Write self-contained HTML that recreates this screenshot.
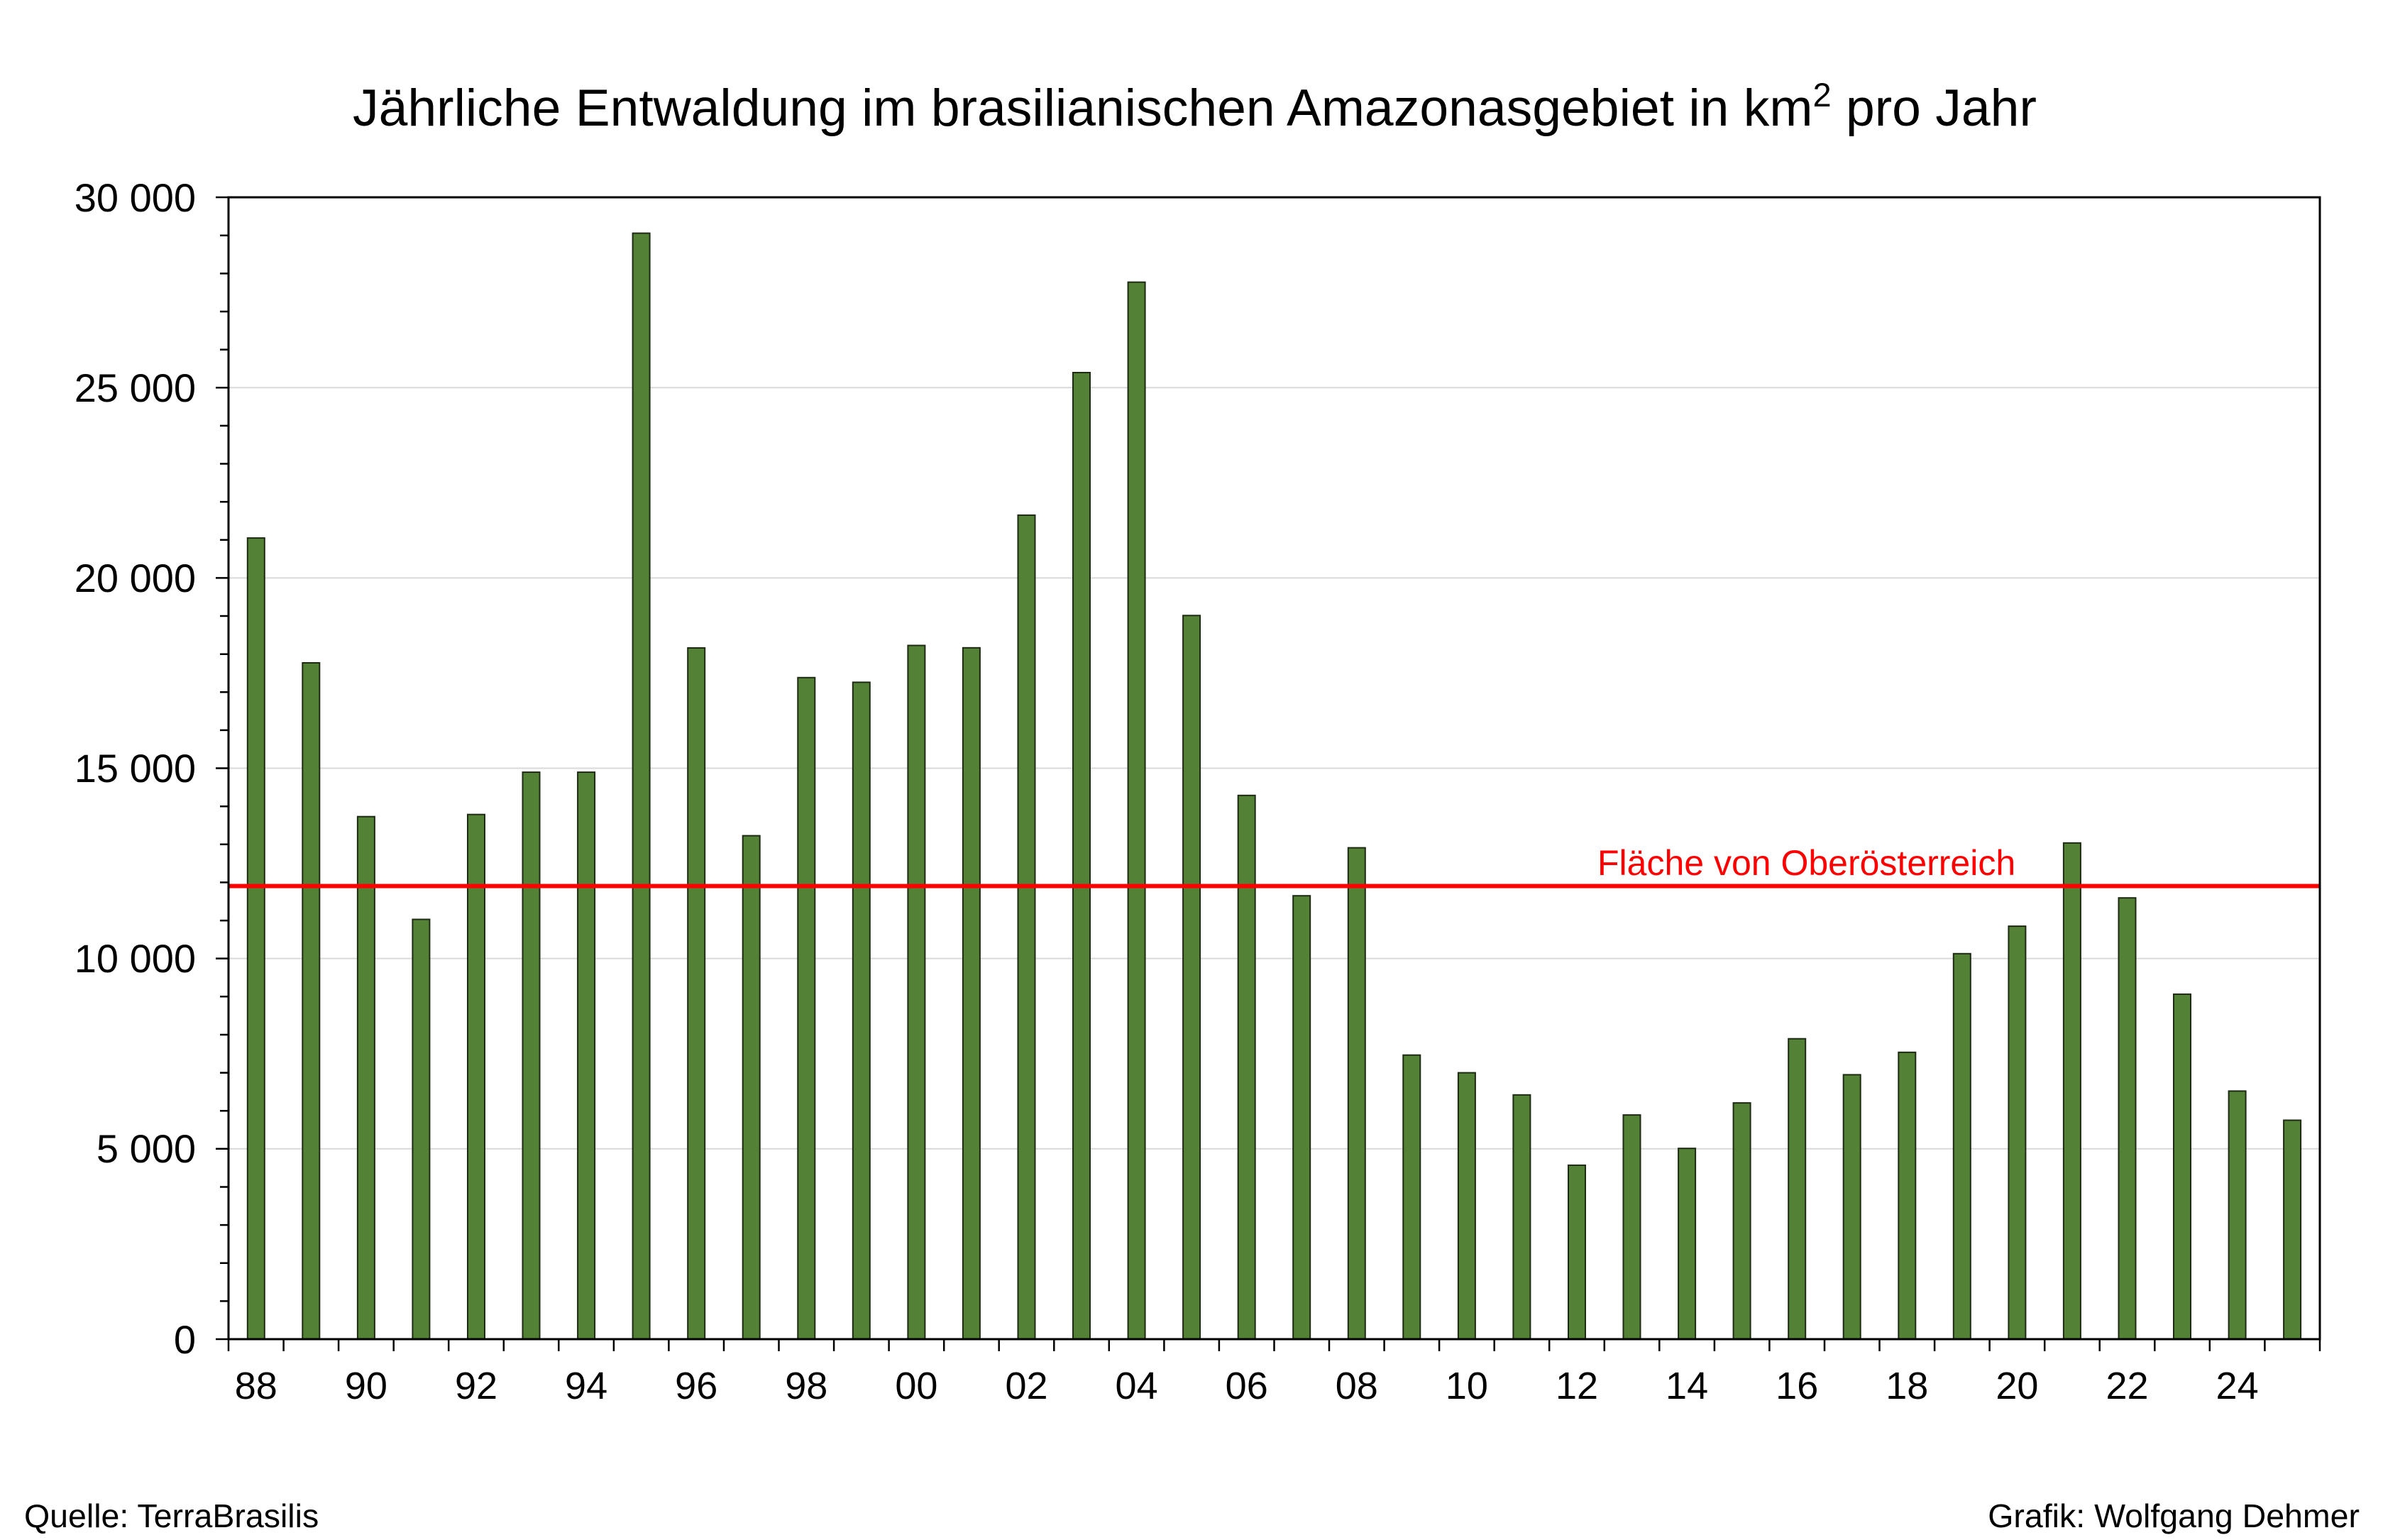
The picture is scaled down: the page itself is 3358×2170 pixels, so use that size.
<!DOCTYPE html>
<html><head><meta charset="utf-8"><style>
html,body{margin:0;padding:0;background:#fff}
svg{display:block}
text{font-family:"Liberation Sans",Arial,sans-serif;fill:#000}
</style></head><body>
<svg width="3358" height="2170" viewBox="0 0 3358 2170" xmlns="http://www.w3.org/2000/svg">
<rect width="3358" height="2170" fill="#fff"/>
<text x="497" y="177" font-size="73.3">Jährliche Entwaldung im brasilianischen Amazonasgebiet in km<tspan font-size="47" dy="-27">2</tspan><tspan dy="27"> pro Jahr</tspan></text>
<g stroke="#d9d9d9" stroke-width="2">
<line x1="322" x2="3269" y1="1618.8" y2="1618.8"/>
<line x1="322" x2="3269" y1="1350.6" y2="1350.6"/>
<line x1="322" x2="3269" y1="1082.5" y2="1082.5"/>
<line x1="322" x2="3269" y1="814.4" y2="814.4"/>
<line x1="322" x2="3269" y1="546.3" y2="546.3"/>
</g>
<g fill="#538135" stroke="#1f2a14" stroke-width="2">
<rect x="348.8" y="758.1" width="24" height="1128.9"/>
<rect x="426.3" y="934" width="24" height="953"/>
<rect x="503.9" y="1150.7" width="24" height="736.3"/>
<rect x="581.4" y="1295.5" width="24" height="591.5"/>
<rect x="659" y="1147.7" width="24" height="739.3"/>
<rect x="736.5" y="1088.1" width="24" height="798.9"/>
<rect x="814.1" y="1088.1" width="24" height="798.9"/>
<rect x="891.6" y="328.6" width="24" height="1558.4"/>
<rect x="969.2" y="913" width="24" height="974"/>
<rect x="1046.7" y="1177.6" width="24" height="709.4"/>
<rect x="1124.3" y="954.8" width="24" height="932.2"/>
<rect x="1201.8" y="961.4" width="24" height="925.6"/>
<rect x="1279.4" y="909.5" width="24" height="977.5"/>
<rect x="1356.9" y="912.8" width="24" height="974.2"/>
<rect x="1434.5" y="725.9" width="24" height="1161.1"/>
<rect x="1512" y="525" width="24" height="1362"/>
<rect x="1589.6" y="397.6" width="24" height="1489.4"/>
<rect x="1667.1" y="867.3" width="24" height="1019.7"/>
<rect x="1744.7" y="1120.8" width="24" height="766.2"/>
<rect x="1822.2" y="1262.2" width="24" height="624.8"/>
<rect x="1899.8" y="1194.6" width="24" height="692.4"/>
<rect x="1977.3" y="1486.7" width="24" height="400.3"/>
<rect x="2054.9" y="1511.6" width="24" height="375.4"/>
<rect x="2132.4" y="1542.8" width="24" height="344.2"/>
<rect x="2210" y="1641.9" width="24" height="245.1"/>
<rect x="2287.5" y="1571.1" width="24" height="315.9"/>
<rect x="2365.1" y="1618.2" width="24" height="268.8"/>
<rect x="2442.6" y="1554.1" width="24" height="332.9"/>
<rect x="2520.2" y="1463.7" width="24" height="423.3"/>
<rect x="2597.7" y="1514.4" width="24" height="372.6"/>
<rect x="2675.3" y="1482.8" width="24" height="404.2"/>
<rect x="2752.8" y="1343.8" width="24" height="543.2"/>
<rect x="2830.4" y="1305.1" width="24" height="581.9"/>
<rect x="2907.9" y="1187.8" width="24" height="699.2"/>
<rect x="2985.5" y="1265.2" width="24" height="621.8"/>
<rect x="3063" y="1400.9" width="24" height="486.1"/>
<rect x="3140.6" y="1537.4" width="24" height="349.6"/>
<rect x="3218.1" y="1578.5" width="24" height="308.5"/>
</g>
<line x1="322" x2="3269" y1="1248.5" y2="1248.5" stroke="#ff0000" stroke-width="6"/>
<text x="2251" y="1233" font-size="50" style="fill:#ff0000">Fläche von Oberösterreich</text>
<rect x="322" y="278" width="2947" height="1609" fill="none" stroke="#000" stroke-width="3"/>
<path stroke="#000" stroke-width="2.5" fill="none" d="
M310 1833.4H322M310 1779.7H322M310 1726.1H322M310 1672.5H322M310 1565.2H322M310 1511.6H322M310 1458H322M310 1404.3H322
M310 1297.1H322M310 1243.4H322M310 1189.8H322M310 1136.2H322M310 1028.9H322M310 975.3H322M310 921.7H322M310 868H322
M310 760.8H322M310 707.1H322M310 653.5H322M310 599.9H322M310 492.6H322M310 439H322M310 385.4H322M310 331.7H322
M304 1887H322M304 1618.8H322M304 1350.6H322M304 1082.5H322M304 814.4H322M304 546.3H322M304 278H322
M322 1887V1904M399.6 1887V1904M477.1 1887V1904M554.7 1887V1904M632.2 1887V1904M709.8 1887V1904M787.3 1887V1904M864.9 1887V1904
M942.4 1887V1904M1020 1887V1904M1097.5 1887V1904M1175.1 1887V1904M1252.6 1887V1904M1330.2 1887V1904M1407.7 1887V1904M1485.3 1887V1904
M1562.8 1887V1904M1640.4 1887V1904M1717.9 1887V1904M1795.5 1887V1904M1873 1887V1904M1950.6 1887V1904M2028.1 1887V1904M2105.7 1887V1904
M2183.2 1887V1904M2260.8 1887V1904M2338.3 1887V1904M2415.9 1887V1904M2493.4 1887V1904M2571 1887V1904M2648.5 1887V1904M2726.1 1887V1904
M2803.6 1887V1904M2881.2 1887V1904M2958.7 1887V1904M3036.3 1887V1904M3113.8 1887V1904M3191.4 1887V1904M3269 1887V1904"/>
<g font-size="56" text-anchor="end">
<text x="276" y="298">30 000</text>
<text x="276" y="566">25 000</text>
<text x="276" y="834">20 000</text>
<text x="276" y="1102">15 000</text>
<text x="276" y="1370">10 000</text>
<text x="276" y="1638">5 000</text>
<text x="276" y="1907">0</text>
</g>
<g font-size="54" text-anchor="middle">
<text x="360.8" y="1971">88</text>
<text x="515.9" y="1971">90</text>
<text x="671" y="1971">92</text>
<text x="826.1" y="1971">94</text>
<text x="981.2" y="1971">96</text>
<text x="1136.3" y="1971">98</text>
<text x="1291.4" y="1971">00</text>
<text x="1446.5" y="1971">02</text>
<text x="1601.6" y="1971">04</text>
<text x="1756.7" y="1971">06</text>
<text x="1911.8" y="1971">08</text>
<text x="2066.9" y="1971">10</text>
<text x="2222" y="1971">12</text>
<text x="2377.1" y="1971">14</text>
<text x="2532.2" y="1971">16</text>
<text x="2687.3" y="1971">18</text>
<text x="2842.4" y="1971">20</text>
<text x="2997.5" y="1971">22</text>
<text x="3152.6" y="1971">24</text>
</g>
<text x="34" y="2152" font-size="46.5">Quelle: TerraBrasilis</text>
<text x="3325" y="2152" font-size="46.5" text-anchor="end">Grafik: Wolfgang Dehmer</text>
</svg>
</body></html>
